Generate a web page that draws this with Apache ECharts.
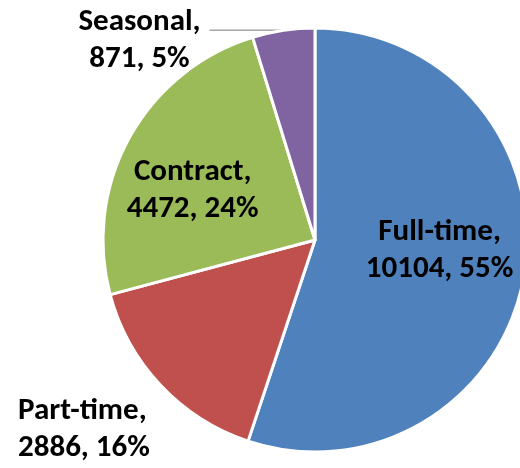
<!DOCTYPE html>
<html>
<head>
<meta charset="utf-8">
<script src="https://cdn.jsdelivr.net/npm/echarts@6/dist/echarts.min.js"></script>
<style>
  html, body { margin: 0; padding: 0; background: #fff; }
  #chart { width: 520px; height: 468px; }
</style>
</head>
<body>
<div id="chart"></div>
<script>
// data
var categories = ['Full-time', 'Part-time', 'Contract', 'Seasonal'];
var values = [10104, 2886, 4472, 871];
var percents = [55, 16, 24, 5];
var colors = ['#4F81BD', '#C0504D', '#9BBB59', '#8064A2'];

var myChart = echarts.init(document.getElementById('chart'));

var fontFam = 'Carlito, "Liberation Sans", Arial, sans-serif';

var pieData = [];
for (var i = 0; i < categories.length; i++) {
    var item = {
        name: categories[i],
        value: values[i],
        itemStyle: { color: colors[i] }
    };
    if (i === 1) {
        // Part-time: outside, no leader line
        item.label = { position: 'outside' };
        item.labelLine = { show: false };
    } else if (i === 3) {
        // Seasonal: outside with a flat leader line
        item.label = {
            position: 'outside',
            formatter: function (p) {
                return '{a|' + p.name + ',}\n{a|' + p.value + ', ' + percents[p.dataIndex] + '%}';
            },
            distanceToLabelLine: 6,
            padding: [20, 0, 0, 0]
        };
        item.labelLine = {
            show: true,
            length: 0,
            length2: 74,
            lineStyle: { color: '#a6a6a6', width: 1.5 }
        };
    }
    pieData.push(item);
}

var option = {
    backgroundColor: '#fff',
    animation: false,
    series: [{
        type: 'pie',
        center: [315, 240],
        radius: 212,
        startAngle: 90,
        clockwise: true,
        avoidLabelOverlap: false,
        itemStyle: { borderColor: '#fff', borderWidth: 3 },
        label: {
            position: 'inside',
            color: '#000',
            fontWeight: 'bold',
            fontSize: 31,
            fontFamily: fontFam,
            lineHeight: 37,
            formatter: function (p) {
                return p.name + ',\n' + p.value + ', ' + percents[p.dataIndex] + '%';
            },
            rich: {
                a: {
                    color: '#000',
                    fontWeight: 'bold',
                    fontSize: 31,
                    fontFamily: fontFam,
                    lineHeight: 37,
                    width: 128,
                    align: 'center'
                }
            }
        },
        labelLayout: function (params) {
            if (params.dataIndex === 0) return { dx: 17, dy: -7 };
            if (params.dataIndex === 2) return { dx: -27, dy: 4 };
            if (params.dataIndex === 1) return { x: 18, y: 430, align: 'left', verticalAlign: 'middle' };
        },
        data: pieData
    }]
};

myChart.setOption(option);
</script>
</body>
</html>
